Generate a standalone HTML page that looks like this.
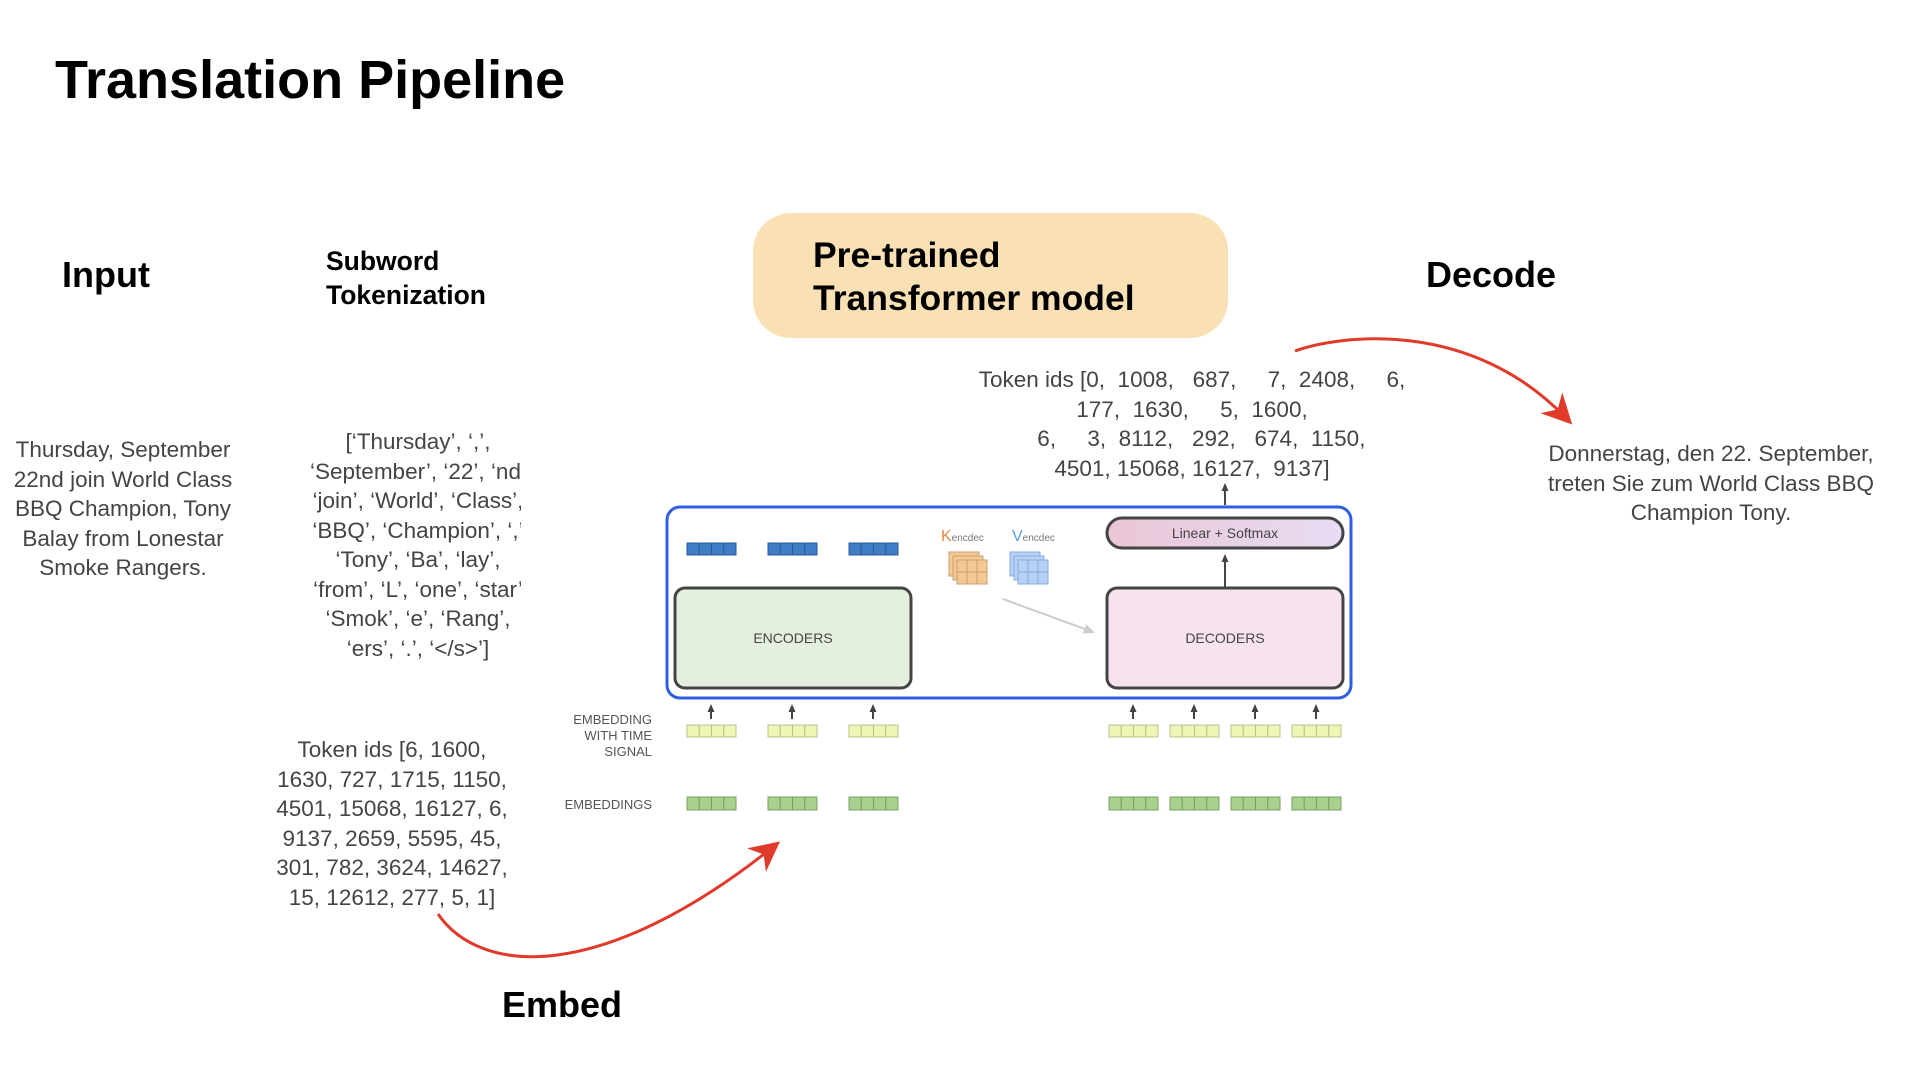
<!DOCTYPE html>
<html><head><meta charset="utf-8"><style>
body{margin:0;width:1920px;height:1080px;background:#fff;position:relative;overflow:hidden;font-family:"Liberation Sans",Arial,sans-serif}
.a{position:absolute;white-space:nowrap}
.h{font-weight:bold;color:#000;font-size:36px}
.g{color:#444;font-size:22.5px;line-height:29.5px;text-align:center}
</style></head><body>
<div class="a" style="left:55px;top:49px;font-size:54px;font-weight:bold">Translation Pipeline</div>
<div class="a h" style="left:62px;top:254px">Input</div>
<div class="a" style="left:326px;top:244px;font-size:26.5px;font-weight:bold;line-height:34px">Subword<br>Tokenization</div>
<div class="a" style="left:753px;top:213px;width:475px;height:125px;background:#fae1b5;border-radius:38px"></div>
<div class="a" style="left:813px;top:234px;font-size:35.5px;font-weight:bold;line-height:43px">Pre-trained<br>Transformer model</div>
<div class="a h" style="left:1426px;top:254px">Decode</div>
<div class="a g" style="left:942px;top:365px;width:500px">Token ids [0,&nbsp; 1008,&nbsp;&nbsp; 687,&nbsp;&nbsp;&nbsp;&nbsp; 7,&nbsp; 2408,&nbsp;&nbsp;&nbsp;&nbsp; 6,<br>177,&nbsp; 1630,&nbsp;&nbsp;&nbsp;&nbsp; 5,&nbsp; 1600,<br>&nbsp;&nbsp;&nbsp;6,&nbsp;&nbsp;&nbsp;&nbsp; 3,&nbsp; 8112,&nbsp;&nbsp; 292,&nbsp;&nbsp; 674,&nbsp; 1150,<br>4501, 15068, 16127,&nbsp; 9137]</div>
<div class="a g" style="left:1511px;top:439px;width:400px">Donnerstag, den 22. September,<br>treten Sie zum World Class BBQ<br>Champion Tony.</div>
<div class="a g" style="left:0px;top:435px;width:246px">Thursday, September<br>22nd join World Class<br>BBQ Champion, Tony<br>Balay from Lonestar<br>Smoke Rangers.</div>
<div class="a" style="left:270px;top:427px;width:251px;height:240px;overflow:hidden"><div class="a g" style="left:0;top:0;width:296px">[‘Thursday’, ‘,’,<br>‘September’, ‘22’, ‘nd’<br>‘join’, ‘World’, ‘Class’,<br>‘BBQ’, ‘Champion’, ‘,’<br>‘Tony’, ‘Ba’, ‘lay’,<br>‘from’, ‘L’, ‘one’, ‘star’<br>‘Smok’, ‘e’, ‘Rang’,<br>‘ers’, ‘.’, ‘&lt;/s&gt;’]</div></div>
<div class="a g" style="left:242px;top:735px;width:300px">Token ids [6, 1600,<br>1630, 727, 1715, 1150,<br>4501, 15068, 16127, 6,<br>9137, 2659, 5595, 45,<br>301, 782, 3624, 14627,<br>15, 12612, 277, 5, 1]</div>
<div class="a h" style="left:502px;top:984px">Embed</div>
<div class="a" style="left:452px;top:712px;width:200px;text-align:right;font-size:13px;line-height:16px;color:#555">EMBEDDING<br>WITH TIME<br>SIGNAL</div>
<div class="a" style="left:452px;top:797px;width:200px;text-align:right;font-size:13px;color:#555">EMBEDDINGS</div>
<svg class="a" style="left:0;top:0" width="1920" height="1080" font-family="Liberation Sans, Arial, sans-serif">
<defs>
<linearGradient id="lg" x1="0" x2="1"><stop offset="0" stop-color="#eac6d6"/><stop offset="1" stop-color="#e7dcf3"/></linearGradient>
<marker id="ar" markerUnits="userSpaceOnUse" markerWidth="9" markerHeight="9" refX="6" refY="4.5" orient="auto"><path d="M0,1 L8,4.5 L0,8z" fill="#444"/></marker>
<marker id="ag" markerUnits="userSpaceOnUse" markerWidth="12" markerHeight="12" refX="9" refY="6" orient="auto"><path d="M0,1 L11,6 L0,11z" fill="#ccc"/></marker>
<marker id="rr" markerWidth="10" markerHeight="10" refX="7" refY="5" orient="auto"><path d="M0,0 L10,5 L0,10 L3,5z" fill="#e03a2a"/></marker>
</defs>
<rect x="667" y="507" width="684" height="191" rx="13" fill="#fff" stroke="#2f5fe0" stroke-width="3"/>
<rect x="675" y="588" width="236" height="100" rx="10" fill="#e4efdf" stroke="#444" stroke-width="3"/>
<text x="793" y="643" text-anchor="middle" font-size="14" fill="#444">ENCODERS</text>
<rect x="1107" y="588" width="236" height="100" rx="10" fill="#f7e3ef" stroke="#444" stroke-width="3"/>
<text x="1225" y="643" text-anchor="middle" font-size="14" fill="#444">DECODERS</text>
<rect x="1107" y="518" width="236" height="30" rx="15" fill="url(#lg)" stroke="#444" stroke-width="3"/>
<text x="1225" y="538" text-anchor="middle" font-size="14" fill="#444">Linear + Softmax</text>
<line x1="1225" y1="587" x2="1225" y2="556" stroke="#444" stroke-width="2" marker-end="url(#ar)"/>
<line x1="1225" y1="505" x2="1225" y2="485" stroke="#444" stroke-width="2" marker-end="url(#ar)"/>
<line x1="1003" y1="599" x2="1093" y2="632" stroke="#ccc" stroke-width="2" marker-end="url(#ag)"/>
<text x="941" y="541" font-size="16" fill="#e8893a">K<tspan font-size="10" fill="#777">encdec</tspan></text>
<text x="1012" y="541" font-size="16" fill="#5b9bef">V<tspan font-size="10" fill="#777">encdec</tspan></text>
<g stroke="#c9a070" fill="#f3c894"><rect x="949" y="552" width="30" height="24"/><rect x="953" y="556" width="30" height="24"/><rect x="957" y="560" width="30" height="24"/><path d="M967 560v24M977 560v24M957 572h30" fill="none"/></g>
<g stroke="#8aa8d8" fill="#b7d2f6"><rect x="1010" y="552" width="30" height="24"/><rect x="1014" y="556" width="30" height="24"/><rect x="1018" y="560" width="30" height="24"/><path d="M1028 560v24M1038 560v24M1018 572h30" fill="none"/></g>
<g id="cells"></g>
<path d="M1295 351 C1340 335 1470 318 1566 418" fill="none" stroke="#e03a2a" stroke-width="3" marker-end="url(#rr)"/>
<path d="M438 914 C480 975 600 985 773 847" fill="none" stroke="#e03a2a" stroke-width="3" marker-end="url(#rr)"/>
</svg>
<script>
var g=document.getElementById('cells'),s='';
function row(x,y,h,f,st){for(var i=0;i<4;i++)s+='<rect x="'+(x+i*12.25)+'" y="'+y+'" width="12.25" height="'+h+'" fill="'+f+'" stroke="'+st+'" stroke-width="1"/>';}
[687,768,849].forEach(function(x){row(x,543,12,'#3f7cc6','#2a5a99');});
[687,768,849,1109,1170,1231,1292].forEach(function(x){row(x,725,12,'#eef5b5','#b9c08a');row(x,797,13,'#a7d18c','#7a9f66');
s+='<line x1="'+(x+24)+'" y1="719" x2="'+(x+24)+'" y2="706" stroke="#444" stroke-width="2" marker-end="url(#ar)"/>';});
g.innerHTML=s;
</script>
</body></html>
